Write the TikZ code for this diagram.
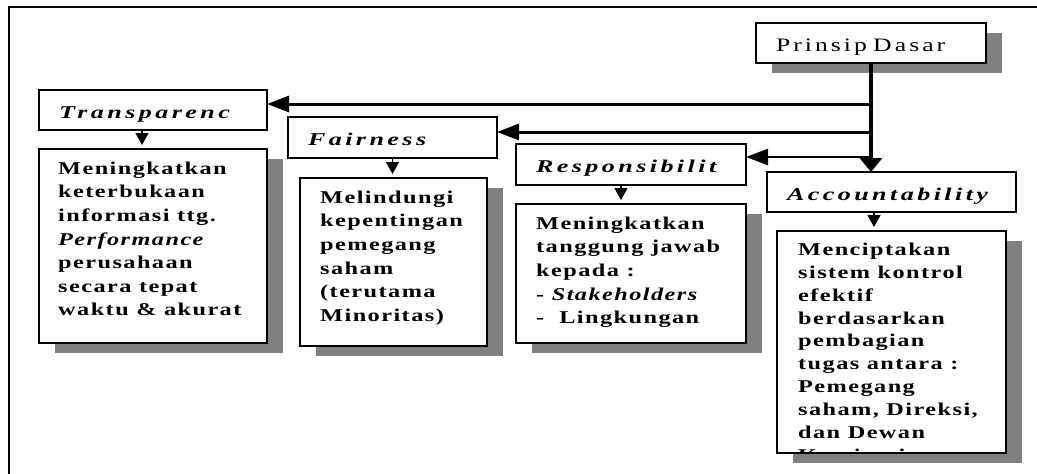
\documentclass[tikz,border=0pt]{standalone}
\usepackage{fontspec}
\setmainfont{Liberation Serif}
\newfontfamily\bodyfont[FakeStretch=1.35,LetterSpace=8]{Liberation Serif}
\newfontfamily\headfont[FakeStretch=1.45,LetterSpace=19]{Liberation Serif}
\newfontfamily\prinfont[FakeStretch=1.35,LetterSpace=16]{Liberation Serif}
\usetikzlibrary{arrows.meta,shadows}
\definecolor{shd}{HTML}{808080}
\begin{document}
\begin{tikzpicture}[x=1pt,y=-1pt,
 box/.style={draw, line width=1.2pt, fill=white, inner sep=0pt, outer sep=0pt, anchor=north west},
 sbox/.style={box, general shadow={fill=shd, shadow xshift=16pt, shadow yshift=-10pt}},
 head/.style={box, align=left, inner xsep=20pt, inner ysep=0pt, text height=16pt, text depth=0pt, font=\headfont\bfseries\itshape\fontsize{18}{20}\selectfont},
 body/.style={anchor=north west, inner sep=0pt, align=left, font=\bodyfont\bfseries\fontsize{18}{23.6}\selectfont},
 mainline/.style={line width=3pt},
 harrow/.style={mainline, -{Triangle[length=22pt,width=16pt]}},
 varrow/.style={line width=3.5pt, -{Triangle[length=14pt,width=22pt]}},
 small/.style={line width=1.5pt, -{Triangle[length=12pt,width=13pt]}, shorten >=4pt},
 frame/.style={line width=1.3pt}]
\useasboundingbox (0,0) rectangle (1037,474);
\draw[frame] (9,474) -- (9,7) -- (1037,7);

% principle
\node[sbox, head, font=\prinfont\fontsize{19}{22}\selectfont, text width=190pt, minimum height=40pt] (P) at (756,23) {\mbox{Prinsip Dasar}};

% titles
\node[head, text width=188pt, minimum height=40pt] (T) at (39,90) {\mbox{Transparenc}};
\node[head, text width=169pt, minimum height=41pt] (F) at (288,117) {\mbox{Fairness}};
\node[head, text width=190pt, minimum height=41pt] (R) at (516,144) {\mbox{Responsibilit}};
\node[head, text width=209pt, minimum height=40pt] (A) at (767,172) {\mbox{Accountability}};

% content boxes
\node[sbox, minimum width=228pt, minimum height=194pt] (C1) at (39,149) {};
\node[sbox, minimum width=187pt, minimum height=168pt] (C2) at (300,178) {};
\node[sbox, minimum width=230pt, minimum height=139pt] (C3) at (516,204) {};
\node[sbox, minimum width=229pt, minimum height=222pt] (C4) at (777,231) {};

\node[body] (B1) at ([shift={(19,12.7)}]C1.north west)
 {Meningkatkan\\keterbukaan\\informasi ttg.\\\textit{Performance}\\perusahaan\\secara tepat\\waktu \& akurat};
\node[body] (B2) at ([shift={(20,12.7)}]C2.north west)
 {Melindungi\\kepentingan\\pemegang\\saham\\(terutama\\Minoritas)};
\node[body] (B3) at ([shift={(20,12.7)}]C3.north west)
 {Meningkatkan\\tanggung jawab\\kepada :\\- \textit{Stakeholders}\\-\ \ Lingkungan};
\begin{scope}
\clip ([shift={(1,1)}]C4.north west) rectangle ([shift={(-1,-1)}]C4.south east);
\node[body, font=\bodyfont\bfseries\fontsize{18}{22.9}\selectfont] (B4) at ([shift={(21,11.7)}]C4.north west)
 {Menciptakan\\sistem kontrol\\efektif\\berdasarkan\\pembagian\\tugas antara :\\Pemegang\\saham, Direksi,\\dan Dewan\\Komisaris};
\end{scope}

% main connectors
\path (P.south) ++(0,41) coordinate (j1) ++(0,28) coordinate (j2) ++(0,25) coordinate (j3);
\draw[varrow] (P.south) -- (P.south |- A.north);
\draw[harrow] (j1) -- (j1 -| T.east);
\draw[harrow] (j2) -- (j2 -| F.east);
\draw[harrow, line width=2.6pt] (j3) -- (j3 -| R.east);

% small arrows
\coordinate (ta) at ([xshift=-11pt]T.south);
\coordinate (fa) at (F.south);
\coordinate (ra) at ([xshift=-10pt]R.south);
\coordinate (aa) at ([xshift=-17.5pt]A.south);
\draw[small] (ta) -- (ta |- C1.north);
\draw[small] (fa) -- (fa |- C2.north);
\draw[small] (ra) -- (ra |- C3.north);
\draw[small] (aa) -- (aa |- C4.north);
\end{tikzpicture}
\end{document}
